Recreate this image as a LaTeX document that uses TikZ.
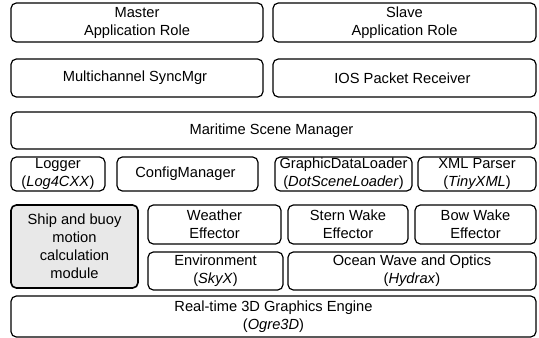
\documentclass[tikz,border=0pt]{standalone}
\usepackage{fontspec}
\setmainfont{Liberation Sans}
\usetikzlibrary{positioning}
\tikzset{
  every node/.style={draw, align=center, rounded corners=4pt, line width=0.9pt,
    inner xsep=1pt, inner ysep=0pt, outer sep=0pt},
  wide/.style={minimum width=393.75pt},
}

\begin{document}
\begin{tikzpicture}
      \fontsize{11pt}{13.5pt}\selectfont
      \useasboundingbox (0,0) rectangle (404.25pt,-253.5pt);
      \node (master) [anchor=north west, minimum width=189pt, minimum height=29.25pt]
        at (8.25pt,-2.25pt) {
        Master \\
        Application Role
      };
      \node (slave) [right = 7.5pt of master, minimum width=197.25pt, minimum height=29.25pt] {
        Slave \\
        Application Role
      };
      \node (sync) [below = 12.75pt of master, minimum width=189pt, minimum height=28.5pt] {
        Multichannel SyncMgr
      };
      \node (ios) [right = 7.5pt of sync, minimum width=197.25pt, minimum height=28.5pt] {
        IOS Packet Receiver
      };
      \node (scene) [below = 11.25pt of sync.south west, anchor=north west, wide,
        minimum height=27.75pt] {
        Maritime Scene Manager
      };

      % helper libraries
      \node (logger) [below = 6pt of scene.south west, anchor=north west,
        minimum width=70.5pt, minimum height=25.5pt] {
        Logger \\
        (\textit{Log4CXX})
      };
      \node (config) [right = 9pt of logger, minimum width=105.75pt, minimum height=25.5pt] {
        ConfigManager
      };
      \node (loader) [right = 12.75pt of config, minimum width=102.75pt, minimum height=25.5pt] {
        GraphicDataLoader \\
        (\textit{DotSceneLoader})
      };
      \node (xml) [right = 4.5pt of loader, minimum width=88.5pt, minimum height=25.5pt] {
        XML Parser \\
        (\textit{TinyXML})
      };

      % effectors
      \node (ship) [below = 10.5pt of logger.south west, anchor=north west, fill=gray!18,
        line width=1.2pt, minimum width=95.25pt, minimum height=62.25pt] {
        Ship and buoy \\
        motion \\
        calculation \\
        module
      };
      \node (weather) [right = 7.5pt of ship.north east, anchor=north west,
        minimum width=99.75pt, minimum height=29.25pt] {
        Weather \\
        Effector
      };
      \node (stern) [right = 5.25pt of weather, minimum width=90pt, minimum height=29.25pt] {
        Stern Wake \\
        Effector
      };
      \node (bow) [right = 5.25pt of stern, minimum width=90.75pt, minimum height=29.25pt] {
        Bow Wake \\
        Effector
      };
      \node (env) [below = 6pt of weather.south west, anchor=north west,
        minimum width=101.25pt, minimum height=28.5pt] {
        Environment \\
        (\textit{SkyX})
      };
      \node (ocean) [right = 3.75pt of env, minimum width=186pt, minimum height=28.5pt] {
        Ocean Wave and Optics \\
        (\textit{Hydrax})
      };

      \node (engine) [below = 6pt of ship.south west, anchor=north west, wide,
        minimum height=30.75pt] {
        Real-time 3D Graphics Engine \\
        (\textit{Ogre3D})
      };
    \end{tikzpicture}
\end{document}
